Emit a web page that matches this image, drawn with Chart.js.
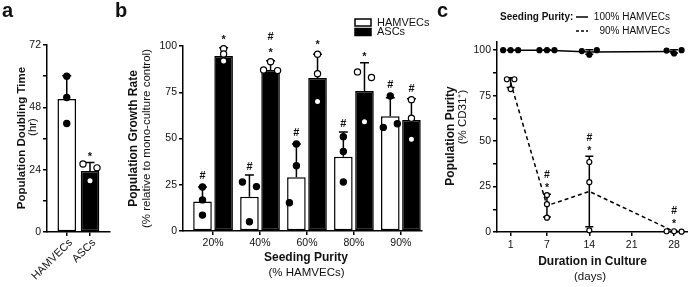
<!DOCTYPE html>
<html>
<head>
<meta charset="utf-8">
<script src="https://cdn.jsdelivr.net/npm/chart.js@4.4.1/dist/chart.umd.min.js"></script>
<style>
    html, body { margin: 0; padding: 0; background: #fff; }
    #fig { position: relative; width: 688px; height: 287px; overflow: hidden; }
    #fig canvas { position: absolute; top: 0; }
</style>
</head>
<body>
<div id="fig">
    <canvas id="chartA" width="115" height="287" style="left:0"></canvas>
    <canvas id="chartB" width="320" height="287" style="left:110px"></canvas>
    <canvas id="chartC" width="258" height="287" style="left:430px"></canvas>
</div>
<script>
// panel a: population doubling time (hr)
const cellTypes = ['HAMVECs', 'ASCs'];
const doublingMean = [51.2, 23.5];
const doublingSD = [9, 3.3];
const doublingReps = [[60, 51.8, 41.8], [26.2, 24.7, 19.7]];
const doublingSig = ['', '*'];

// panel b: growth rate (% of mono-culture) by seeding purity
const purityLabels = ['20%', '40%', '60%', '80%', '90%'];
const growthHam = [16, 18.5, 29, 40.2, 62];
const growthHamSD = [7.8, 11.8, 18, 13.3, 10];
const growthHamReps = [[23.8, 16.8, 8.6], [26.5, 24, 5], [47, 35.3, 15.3], [51, 43, 26.5], [73, 56, 58]];
const growthHamSig = ['#', '#', '#', '#', '#'];
const growthAsc = [94.6, 87, 82.7, 75.7, 60];
const growthAscSD = [4.4, 5, 12.9, 15.3, 11.5];
const growthAscReps = [[98.5, 95.7, 91.9], [91.5, 87, 86.7], [95.6, 85, 70], [86, 83, 59], [71, 61, 49.6]];
const growthAscSig = ['*', '#*', '*', '*', '#'];

// panel c: population purity (% CD31+) over time
const days = [1, 7, 14, 28];
const dayTicks = [1, 7, 14, 21, 28];
const pure100Mean = [100, 100, 99, 99.3];
const pure100SD = [0.1, 0.1, 1.3, 0.9];
const pure100Reps = [[100, 100, 100], [100, 100, 100], [99.5, 97.5, 100], [99.8, 98.2, 100]];
const pure90Mean = [82.2, 14.5, 22.3, 0.3];
const pure90SD = [2.7, 6.2, 19.4, 0.1];
const pure90Reps = [[84, 78.6, 84], [20.3, 15.3, 7.9], [38.5, 27.4, 0.9], [0.4, 0.4, 0.2]];
const pure90Sig = ['', '#*', '#*', '#*'];

// horizontal spread of replicate dots (-1 left, 0 centre, 1 right)
const spreadHam = [[0, 0, 0], [-1, 1, 0], [0, 0, -1], [0, 0, 0], [0, -1, 1]];
const spreadAsc = [[0, 0, 0], [0, -1, 1], [0, 0, 0], [-1, 1, 0], [0, 0, 0]];
const spreadA = [[0, 0, 0], [-1, 1, 0]];
const spreadC100 = [[-1, 0, 1], [-1, 0, 1], [-1, 0, 1], [-1, 0, 1]];
const spreadC90 = [[-0.5, 0, 0.5], [0, 0, 0], [0, 0, 0], [-1, 0, 1]];

const FONT = '"Liberation Sans", Arial, Helvetica, sans-serif';
const INK = '#111';
Chart.defaults.font.family = FONT;
Chart.defaults.color = INK;

// error bars, replicate dots and significance marks
const replicatePlugin = {
    id: 'replicates',
    afterDatasetsDraw(chart, args, opts) {
        if (!opts.sets) return;
        const ctx = chart.ctx;
        const yScale = chart.scales.y;
        opts.sets.forEach(set => {
            const meta = chart.getDatasetMeta(set.dataset);
            meta.data.forEach((el, i) => {
                const cx = el.x;
                const yMean = yScale.getPixelForValue(set.mean[i]);
                const yHi = yScale.getPixelForValue(set.mean[i] + set.sd[i]);
                const yLo = yScale.getPixelForValue(set.mean[i] - set.sd[i]);
                ctx.save();
                ctx.strokeStyle = '#000';
                ctx.lineWidth = opts.errWidth;
                ctx.beginPath();
                ctx.moveTo(cx, set.both ? yLo : yMean);
                ctx.lineTo(cx, yHi);
                ctx.moveTo(cx - opts.cap, yHi);
                ctx.lineTo(cx + opts.cap, yHi);
                if (set.both) {
                    ctx.moveTo(cx - opts.cap, yLo);
                    ctx.lineTo(cx + opts.cap, yLo);
                }
                ctx.stroke();

                const dotYs = set.reps[i].map(v => yScale.getPixelForValue(v));
                const fill = Array.isArray(set.fill) ? set.fill[i] : set.fill;
                dotYs.forEach((py, k) => {
                    const dx = set.spread ? set.spread[i][k] * opts.spreadPx : 0;
                    ctx.beginPath();
                    ctx.arc(cx + dx, py, opts.radius, 0, Math.PI * 2);
                    ctx.fillStyle = fill;
                    ctx.fill();
                    ctx.lineWidth = opts.dotLine;
                    ctx.stroke();
                });

                const marks = (set.sig && set.sig[i]) || '';
                ctx.fillStyle = INK;
                ctx.font = `bold ${opts.sigSize}px ${FONT}`;
                ctx.textAlign = 'center';
                ctx.textBaseline = 'alphabetic';
                let cy = Math.min(yHi, Math.min(...dotYs) - opts.radius) - opts.sigGap;
                for (let m = marks.length - 1; m >= 0; m--) {
                    const ch = marks[m];
                    const base = ch === '*' ? cy + opts.sigSize * 0.58 : cy + opts.sigSize * 0.36;
                    ctx.fillText(ch, cx, base);
                    cy -= opts.sigStep;
                }
                ctx.restore();
            });
        });
    }
};

// titles, panel letters, slanted category labels and legends
const textPlugin = {
    id: 'panelText',
    afterDraw(chart, args, opts) {
        const ctx = chart.ctx;
        (opts.items || []).forEach(it => {
            ctx.save();
            if (it.box) {
                ctx.fillStyle = it.fill;
                ctx.fillRect(it.box[0], it.box[1], it.box[2], it.box[3]);
                ctx.strokeStyle = '#000';
                ctx.lineWidth = 1.5;
                ctx.strokeRect(it.box[0], it.box[1], it.box[2], it.box[3]);
            } else if (it.line) {
                ctx.strokeStyle = '#000';
                ctx.lineWidth = 1.5;
                ctx.setLineDash(it.dash || []);
                ctx.beginPath();
                ctx.moveTo(it.line[0], it.line[2]);
                ctx.lineTo(it.line[1], it.line[2]);
                ctx.stroke();
            } else if (it.slanted) {
                ctx.fillStyle = INK;
                ctx.font = `${it.size}px ${FONT}`;
                ctx.textAlign = 'right';
                ctx.textBaseline = 'middle';
                it.slanted.forEach((txt, i) => {
                    const px = chart.scales.x.getPixelForValue(i);
                    ctx.save();
                    ctx.translate(px + it.dx, it.y);
                    ctx.rotate(-45 * Math.PI / 180);
                    ctx.fillText(txt, 0, 0);
                    ctx.restore();
                });
            } else {
                const text = it.label != null ? chart.data.datasets[it.label].label : it.text;
                ctx.fillStyle = INK;
                ctx.font = `${it.bold ? 'bold ' : ''}${it.size}px ${FONT}`;
                ctx.textAlign = it.align || 'center';
                ctx.textBaseline = it.baseline || 'middle';
                ctx.translate(it.x, it.y);
                if (it.rot) ctx.rotate(it.rot * Math.PI / 180);
                ctx.fillText(text, 0, 0);
            }
            ctx.restore();
        });
    }
};

Chart.register(replicatePlugin, textPlugin);

function axisStyle(extra) {
    return Object.assign({
        offset: false,
        bounds: 'data',
        grid: { offset: false, drawOnChartArea: false, drawTicks: true, tickLength: 4, color: '#000', lineWidth: 1.5, tickWidth: 1.5 },
        border: { display: true, color: '#000', width: 1.5 },
        ticks: { color: INK, font: { size: 10.5 }, padding: 2, autoSkip: false }
    }, extra);
}

const baseOpts = { responsive: false, animation: false, devicePixelRatio: 1, events: [] };

// ---- a ----
new Chart(document.getElementById('chartA'), {
    type: 'bar',
    data: {
        datasets: [{
            label: 'Doubling time',
            data: cellTypes.map((c, i) => ({ x: i, y: doublingMean[i] })),
            backgroundColor: ['#fff', '#000'],
            borderColor: '#000',
            borderWidth: 1.5,
            borderSkipped: false,
            categoryPercentage: 1,
            barPercentage: 0.8
        }]
    },
    options: Object.assign({}, baseOpts, {
        layout: { padding: { left: 0, top: 45, right: 5, bottom: 0 } },
        plugins: {
            legend: { display: false },
            tooltip: { enabled: false },
            replicates: {
                errWidth: 1.5, cap: 4.5, radius: 3.1, dotLine: 1.2, spreadPx: 7,
                sigSize: 11, sigGap: 7, sigStep: 12,
                sets: [{ dataset: 0, mean: doublingMean, sd: doublingSD, reps: doublingReps, spread: spreadA, sig: doublingSig, fill: ['#000', '#fff'] }]
            },
            panelText: {
                items: [
                    { text: 'a', x: 2, y: 17, bold: true, size: 20, align: 'left', baseline: 'alphabetic' },
                    { text: 'Population Doubling Time', x: 22, y: 138, bold: true, size: 11.5, rot: -90 },
                    { text: '(hr)', x: 33, y: 127, size: 11.5, rot: -90 },
                    { slanted: cellTypes, y: 241, dx: 4, size: 11 }
                ]
            }
        },
        scales: {
            x: axisStyle({
                type: 'linear', min: -0.85, max: 1.86,
                afterBuildTicks: s => { s.ticks = cellTypes.map((c, i) => ({ value: i })); },
                afterFit: s => { s.height = 55; },
                ticks: { display: false }
            }),
            y: axisStyle({
                type: 'linear', min: 0, max: 72,
                afterBuildTicks: s => { s.ticks = [0, 12, 24, 36, 48, 60, 72].map(v => ({ value: v })); },
                afterFit: s => { s.width = 47; },
                ticks: { color: INK, font: { size: 10.5 }, padding: 2, callback: v => (v % 24 === 0 ? v : '') }
            })
        }
    })
});

// ---- b ----
new Chart(document.getElementById('chartB'), {
    type: 'bar',
    data: {
        datasets: [{
            label: 'HAMVECs',
            data: purityLabels.map((p, i) => ({ x: i, y: growthHam[i] })),
            backgroundColor: '#fff',
            borderColor: '#000',
            borderWidth: 1.5,
            borderSkipped: false,
            categoryPercentage: 0.9,
            barPercentage: 0.88
        }, {
            label: 'ASCs',
            data: purityLabels.map((p, i) => ({ x: i, y: growthAsc[i] })),
            backgroundColor: '#000',
            borderColor: '#000',
            borderWidth: 1.5,
            borderSkipped: false,
            categoryPercentage: 0.9,
            barPercentage: 0.88
        }]
    },
    options: Object.assign({}, baseOpts, {
        layout: { padding: { left: 0, top: 46, right: 8, bottom: 0 } },
        plugins: {
            legend: { display: false },
            tooltip: { enabled: false },
            replicates: {
                errWidth: 1.5, cap: 4.5, radius: 3.1, dotLine: 1.2, spreadPx: 7,
                sigSize: 11, sigGap: 9, sigStep: 14,
                sets: [
                    { dataset: 0, mean: growthHam, sd: growthHamSD, reps: growthHamReps, spread: spreadHam, sig: growthHamSig, fill: '#000' },
                    { dataset: 1, mean: growthAsc, sd: growthAscSD, reps: growthAscReps, spread: spreadAsc, sig: growthAscSig, fill: '#fff' }
                ]
            },
            panelText: {
                items: [
                    { text: 'b', x: 5, y: 17, bold: true, size: 20, align: 'left', baseline: 'alphabetic' },
                    { text: 'Population Growth Rate', x: 24, y: 138.5, bold: true, size: 12, rot: -90 },
                    { text: '(% relative to mono-culture control)', x: 37, y: 138.5, size: 11.5, rot: -90 },
                    { text: 'Seeding Purity', x: 196, y: 258, bold: true, size: 12 },
                    { text: '(% HAMVECs)', x: 196.5, y: 273, size: 11.5 },
                    { box: [245, 19, 16, 7], fill: '#fff' },
                    { label: 0, x: 267, y: 22.7, size: 11, align: 'left' },
                    { box: [245, 28.5, 16, 7], fill: '#000' },
                    { label: 1, x: 267, y: 32, size: 11, align: 'left' }
                ]
            }
        },
        scales: {
            x: axisStyle({
                type: 'linear', min: -0.64, max: 4.45,
                afterBuildTicks: s => { s.ticks = purityLabels.map((p, i) => ({ value: i })); },
                afterFit: s => { s.height = 56; },
                ticks: { color: INK, font: { size: 10.5 }, padding: 2, autoSkip: false, maxRotation: 0, callback: v => purityLabels[v] }
            }),
            y: axisStyle({
                type: 'linear', min: 0, max: 100,
                afterBuildTicks: s => { s.ticks = [0, 25, 50, 75, 100].map(v => ({ value: v })); },
                afterFit: s => { s.width = 73; }
            })
        }
    })
});

// ---- c ----
new Chart(document.getElementById('chartC'), {
    type: 'line',
    data: {
        datasets: [{
            label: '100% HAMVECs',
            data: days.map((d, i) => ({ x: d, y: pure100Mean[i] })),
            borderColor: '#000',
            borderWidth: 1.5,
            pointRadius: 0,
            tension: 0,
            fill: false
        }, {
            label: '90% HAMVECs',
            data: days.map((d, i) => ({ x: d, y: pure90Mean[i] })),
            borderColor: '#000',
            borderWidth: 1.5,
            borderDash: [4, 3],
            pointRadius: 0,
            tension: 0,
            fill: false
        }]
    },
    options: Object.assign({}, baseOpts, {
        layout: { padding: { left: 0, top: 42, right: 0, bottom: 0 } },
        plugins: {
            legend: { display: false },
            tooltip: { enabled: false },
            replicates: {
                errWidth: 1.5, cap: 4, radius: 2.5, dotLine: 1.2, spreadPx: 7.5,
                sigSize: 10.5, sigGap: 8, sigStep: 10.8,
                sets: [
                    { dataset: 0, mean: pure100Mean, sd: pure100SD, reps: pure100Reps, spread: spreadC100, fill: '#000', both: true },
                    { dataset: 1, mean: pure90Mean, sd: pure90SD, reps: pure90Reps, spread: spreadC90, sig: pure90Sig, fill: '#fff', both: true }
                ]
            },
            panelText: {
                items: [
                    { text: 'c', x: 7, y: 16.5, bold: true, size: 20, align: 'left', baseline: 'alphabetic' },
                    { text: 'Population Purity', x: 21, y: 136, bold: true, size: 12, rot: -90 },
                    { text: '(% CD31⁺)', x: 32.5, y: 117, size: 11.5, rot: -90 },
                    { text: 'Duration in Culture', x: 162.5, y: 262, bold: true, size: 12 },
                    { text: '(days)', x: 160, y: 277, size: 11.5 },
                    { text: 'Seeding Purity:', x: 70, y: 17, bold: true, size: 10, align: 'left' },
                    { line: [146, 158, 17] },
                    { label: 0, x: 240, y: 17, size: 10, align: 'right' },
                    { line: [146, 158, 31], dash: [3, 2] },
                    { label: 1, x: 240, y: 31, size: 10, align: 'right' }
                ]
            }
        },
        scales: {
            x: axisStyle({
                type: 'linear', min: -1.25, max: 30.3,
                afterBuildTicks: s => { s.ticks = dayTicks.map(v => ({ value: v })); },
                afterFit: s => { s.height = 55; },
                ticks: { color: INK, font: { size: 10.5 }, padding: 3, autoSkip: false, maxRotation: 0 }
            }),
            y: axisStyle({
                type: 'linear', min: 0, max: 104.5,
                afterBuildTicks: s => { s.ticks = [0, 12.5, 25, 37.5, 50, 62.5, 75, 87.5, 100].map(v => ({ value: v })); },
                afterFit: s => { s.width = 67; },
                ticks: { color: INK, font: { size: 10.5 }, padding: 2, callback: v => (v % 25 === 0 ? v : '') }
            })
        }
    })
});
</script>
</body>
</html>
